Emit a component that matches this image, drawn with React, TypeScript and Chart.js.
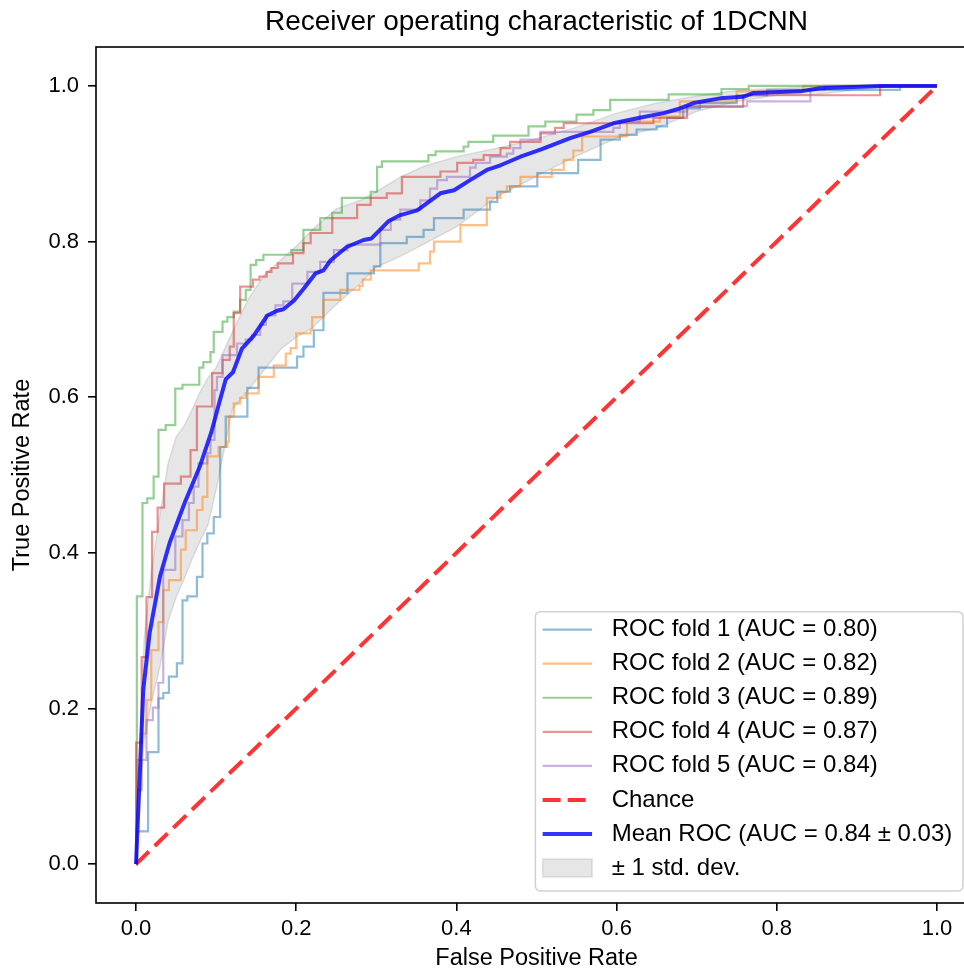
import React, { useEffect, useRef } from "react";
import { Chart, registerables } from "chart.js";

Chart.register(...registerables);

// ---------------- data ----------------
const TITLE = "Receiver operating characteristic of 1DCNN";
const X_LABEL = "False Positive Rate";
const Y_LABEL = "True Positive Rate";

const xTickValues = [0, 0.2, 0.4, 0.6, 0.8, 1.0];
const yTickValues = [0, 0.2, 0.4, 0.6, 0.8, 1.0];

const foldAuc = [0.8, 0.82, 0.89, 0.87, 0.84];
const meanAuc = 0.84;
const stdAuc = 0.03;

const fold1Fpr = [0, 0.001, 0.015, 0.028, 0.034, 0.041, 0.051, 0.058, 0.064, 0.076, 0.083, 0.089, 0.097, 0.105, 0.112, 0.139, 0.153, 0.201, 0.209, 0.222, 0.234, 0.264, 0.297, 0.305, 0.338, 0.359, 0.372, 0.409, 0.442, 0.451, 0.467, 0.501, 0.552, 0.58, 0.604, 0.625, 0.65, 0.663, 0.683, 0.704, 0.75, 0.788, 0.954, 1.0];
const fold1Tpr = [0, 0.042, 0.144, 0.213, 0.22, 0.241, 0.258, 0.339, 0.344, 0.369, 0.412, 0.425, 0.446, 0.536, 0.575, 0.612, 0.638, 0.652, 0.665, 0.686, 0.734, 0.759, 0.768, 0.798, 0.806, 0.815, 0.83, 0.841, 0.851, 0.864, 0.871, 0.888, 0.905, 0.931, 0.937, 0.944, 0.948, 0.959, 0.971, 0.978, 0.988, 0.995, 1.0, 1.0];

const fold2Fpr = [0, 0.001, 0.007, 0.013, 0.019, 0.028, 0.034, 0.041, 0.056, 0.062, 0.076, 0.083, 0.089, 0.103, 0.114, 0.116, 0.122, 0.13, 0.137, 0.153, 0.172, 0.187, 0.193, 0.2, 0.218, 0.22, 0.234, 0.255, 0.279, 0.283, 0.293, 0.353, 0.367, 0.372, 0.405, 0.438, 0.455, 0.463, 0.48, 0.519, 0.534, 0.546, 0.557, 0.613, 0.654, 0.679, 0.75, 0.833, 1.0];
const fold2Tpr = [0, 0.134, 0.168, 0.211, 0.275, 0.311, 0.352, 0.365, 0.404, 0.429, 0.455, 0.472, 0.524, 0.536, 0.543, 0.575, 0.592, 0.599, 0.605, 0.626, 0.641, 0.656, 0.663, 0.682, 0.686, 0.703, 0.725, 0.738, 0.743, 0.751, 0.763, 0.772, 0.787, 0.8, 0.821, 0.856, 0.864, 0.871, 0.883, 0.892, 0.905, 0.917, 0.935, 0.954, 0.961, 0.98, 0.993, 1.0, 1.0];

const fold3Fpr = [0, 0.001, 0.008, 0.014, 0.022, 0.028, 0.037, 0.049, 0.058, 0.079, 0.084, 0.093, 0.097, 0.108, 0.114, 0.122, 0.13, 0.137, 0.143, 0.15, 0.159, 0.194, 0.209, 0.23, 0.245, 0.257, 0.293, 0.301, 0.307, 0.365, 0.374, 0.409, 0.415, 0.446, 0.49, 0.511, 0.55, 0.571, 0.592, 0.665, 0.731, 0.765, 1.0];
const fold3Tpr = [0, 0.344, 0.464, 0.47, 0.498, 0.558, 0.564, 0.611, 0.616, 0.638, 0.645, 0.658, 0.684, 0.697, 0.703, 0.71, 0.725, 0.738, 0.77, 0.776, 0.783, 0.789, 0.815, 0.83, 0.837, 0.856, 0.864, 0.896, 0.903, 0.911, 0.916, 0.922, 0.928, 0.936, 0.948, 0.954, 0.963, 0.969, 0.982, 0.989, 0.996, 1.0, 1.0];

const fold4Fpr = [0, 0, 0.007, 0.013, 0.02, 0.027, 0.035, 0.056, 0.068, 0.076, 0.095, 0.108, 0.117, 0.122, 0.13, 0.146, 0.154, 0.163, 0.169, 0.177, 0.196, 0.209, 0.218, 0.245, 0.276, 0.293, 0.313, 0.332, 0.38, 0.401, 0.421, 0.434, 0.455, 0.467, 0.505, 0.523, 0.534, 0.646, 0.688, 0.758, 0.929, 1.0];
const fold4Tpr = [0, 0.156, 0.266, 0.343, 0.427, 0.458, 0.489, 0.498, 0.532, 0.588, 0.631, 0.648, 0.665, 0.708, 0.742, 0.751, 0.755, 0.761, 0.766, 0.772, 0.785, 0.798, 0.811, 0.83, 0.847, 0.856, 0.862, 0.883, 0.89, 0.901, 0.905, 0.911, 0.92, 0.928, 0.939, 0.946, 0.952, 0.959, 0.973, 0.988, 1.0, 1.0];

const fold5Fpr = [0, 0.001, 0.007, 0.013, 0.021, 0.028, 0.034, 0.049, 0.058, 0.066, 0.072, 0.078, 0.089, 0.093, 0.098, 0.101, 0.108, 0.126, 0.137, 0.145, 0.155, 0.162, 0.174, 0.184, 0.195, 0.214, 0.23, 0.247, 0.264, 0.305, 0.318, 0.33, 0.355, 0.367, 0.376, 0.388, 0.417, 0.424, 0.442, 0.463, 0.471, 0.48, 0.505, 0.596, 0.604, 0.629, 0.688, 0.763, 0.842, 0.86, 1.0];
const fold5Tpr = [0, 0.095, 0.134, 0.185, 0.201, 0.233, 0.378, 0.421, 0.442, 0.464, 0.485, 0.515, 0.528, 0.545, 0.609, 0.626, 0.654, 0.669, 0.674, 0.68, 0.693, 0.705, 0.718, 0.723, 0.746, 0.761, 0.774, 0.789, 0.796, 0.815, 0.828, 0.841, 0.853, 0.868, 0.879, 0.883, 0.895, 0.901, 0.909, 0.913, 0.92, 0.931, 0.941, 0.946, 0.954, 0.967, 0.974, 0.98, 0.995, 1.0, 1.0];

const meanFpr = [0, 0.009, 0.017, 0.03, 0.042, 0.061, 0.08, 0.094, 0.105, 0.112, 0.121, 0.132, 0.147, 0.164, 0.176, 0.184, 0.197, 0.209, 0.224, 0.234, 0.243, 0.263, 0.284, 0.294, 0.315, 0.33, 0.351, 0.38, 0.397, 0.417, 0.438, 0.455, 0.48, 0.505, 0.542, 0.567, 0.596, 0.629, 0.659, 0.679, 0.696, 0.729, 0.758, 0.771, 0.829, 0.854, 0.929, 1.0];
const meanTpr = [0, 0.224, 0.297, 0.37, 0.413, 0.465, 0.512, 0.555, 0.597, 0.623, 0.632, 0.662, 0.679, 0.705, 0.711, 0.713, 0.724, 0.739, 0.759, 0.763, 0.776, 0.793, 0.802, 0.804, 0.826, 0.834, 0.84, 0.862, 0.866, 0.879, 0.892, 0.898, 0.909, 0.918, 0.933, 0.941, 0.952, 0.959, 0.965, 0.971, 0.978, 0.984, 0.986, 0.991, 0.993, 0.997, 1.0, 1.0];

const bandFpr = [0, 0.01, 0.02, 0.03, 0.04, 0.05, 0.06, 0.07, 0.08, 0.09, 0.1, 0.12, 0.14, 0.16, 0.18, 0.2, 0.22, 0.25, 0.28, 0.3, 0.33, 0.36, 0.4, 0.45, 0.5, 0.55, 0.6, 0.65, 0.7, 0.75, 0.8, 0.85, 0.9, 0.95, 1.0];
const bandUpper = [0, 0.288, 0.383, 0.45, 0.515, 0.549, 0.563, 0.584, 0.607, 0.625, 0.638, 0.683, 0.726, 0.757, 0.776, 0.794, 0.815, 0.842, 0.853, 0.864, 0.883, 0.897, 0.909, 0.92, 0.932, 0.947, 0.965, 0.978, 0.987, 0.994, 0.997, 0.999, 1.0, 1.0, 1.0];
const bandLower = [0, 0.159, 0.211, 0.254, 0.312, 0.343, 0.366, 0.392, 0.415, 0.436, 0.481, 0.584, 0.609, 0.635, 0.661, 0.677, 0.689, 0.719, 0.746, 0.767, 0.781, 0.797, 0.819, 0.857, 0.884, 0.91, 0.933, 0.946, 0.967, 0.98, 0.988, 0.989, 0.995, 1.0, 1.0];

const chanceFpr = [0, 1];
const chanceTpr = [0, 1];

// ---------------- styles ----------------
const FONT = '"Liberation Sans", Arial, Helvetica, sans-serif';
const foldColors = [
  "rgba(31,119,180,0.5)",
  "rgba(255,127,14,0.5)",
  "rgba(44,160,44,0.5)",
  "rgba(214,39,40,0.5)",
  "rgba(148,103,189,0.5)",
];
const MEAN_COLOR = "rgba(0,0,255,0.8)";
const CHANCE_COLOR = "rgba(255,0,0,0.8)";
const BAND_FILL = "rgba(128,128,128,0.2)";
const BAND_EDGE = "rgba(128,128,128,0.22)";
const CHANCE_DASH = [18, 8];

const toPts = (xs: number[], ys: number[]) => xs.map((x, i) => ({ x, y: ys[i] }));

const foldFprs = [fold1Fpr, fold2Fpr, fold3Fpr, fold4Fpr, fold5Fpr];
const foldTprs = [fold1Tpr, fold2Tpr, fold3Tpr, fold4Tpr, fold5Tpr];

const foldLabels = foldAuc.map((a, i) => `ROC fold ${i + 1} (AUC = ${a.toFixed(2)})`);
const meanLabel = `Mean ROC (AUC = ${meanAuc.toFixed(2)} \u00B1 ${stdAuc.toFixed(2)})`;
const bandLabel = "\u00B1 1 std. dev.";
const chanceLabel = "Chance";

const framePlugin = {
  id: "frame",
  afterDatasetsDraw(chart: any) {
    const { ctx, chartArea: a } = chart;
    ctx.save();
    ctx.strokeStyle = "#000";
    ctx.lineWidth = 1.6;
    ctx.strokeRect(a.left, a.top, a.right - a.left, a.bottom - a.top);
    ctx.restore();
  },
};

const legendPlugin = {
  id: "mplLegend",
  afterDraw(chart: any) {
    const { ctx, chartArea: a } = chart;
    type Item = { label: string; kind: string; color: string };
    const items: Item[] = [
      ...foldLabels.map((l, i) => ({ label: l, kind: "line", color: foldColors[i] })),
      { label: chanceLabel, kind: "dash", color: CHANCE_COLOR },
      { label: meanLabel, kind: "mean", color: MEAN_COLOR },
      { label: bandLabel, kind: "band", color: BAND_FILL },
    ];
    ctx.save();
    ctx.font = `24px ${FONT}`;
    const maxW = Math.max(...items.map((it) => ctx.measureText(it.label).width));
    const padL = 7.3, handleW = 49.4, gap = 19.6, padR = 10.7;
    const rowH = 34.05, topPad = 18, botPad = 23;
    const boxR = a.right - 14;
    const boxB = a.bottom - 12;
    const boxW = padL + handleW + gap + maxW + padR;
    const boxH = topPad + rowH * (items.length - 1) + botPad;
    const boxL = boxR - boxW;
    const boxT = boxB - boxH;
    const r = 5;
    ctx.beginPath();
    ctx.moveTo(boxL + r, boxT);
    ctx.lineTo(boxR - r, boxT);
    ctx.arcTo(boxR, boxT, boxR, boxT + r, r);
    ctx.lineTo(boxR, boxB - r);
    ctx.arcTo(boxR, boxB, boxR - r, boxB, r);
    ctx.lineTo(boxL + r, boxB);
    ctx.arcTo(boxL, boxB, boxL, boxB - r, r);
    ctx.lineTo(boxL, boxT + r);
    ctx.arcTo(boxL, boxT, boxL + r, boxT, r);
    ctx.closePath();
    ctx.fillStyle = "rgba(255,255,255,0.8)";
    ctx.fill();
    ctx.strokeStyle = "rgba(204,204,204,0.9)";
    ctx.lineWidth = 1.5;
    ctx.stroke();

    const hx0 = boxL + padL;
    const hx1 = hx0 + handleW;
    const tx = hx1 + gap;
    items.forEach((it, i) => {
      const cy = boxT + topPad + i * rowH;
      ctx.setLineDash([]);
      if (it.kind === "band") {
        ctx.fillStyle = BAND_FILL;
        ctx.fillRect(hx0, cy - 9, handleW, 18);
        ctx.strokeStyle = BAND_EDGE;
        ctx.lineWidth = 1.5;
        ctx.strokeRect(hx0, cy - 9, handleW, 18);
      } else {
        ctx.beginPath();
        ctx.moveTo(hx0, cy);
        ctx.lineTo(hx1, cy);
        ctx.strokeStyle = it.color;
        ctx.lineWidth = it.kind === "line" ? 2.2 : 4;
        if (it.kind === "dash") ctx.setLineDash([18, 7]);
        ctx.lineCap = "butt";
        ctx.stroke();
      }
      ctx.setLineDash([]);
      ctx.fillStyle = "#000";
      ctx.textAlign = "left";
      ctx.textBaseline = "middle";
      ctx.fillText(it.label, tx, cy);
    });
    ctx.restore();
  },
};

export default function App() {
  const ref = useRef<HTMLCanvasElement>(null);

  useEffect(() => {
    if (!ref.current) return;
    const foldDatasets = foldFprs.map((fx, i) => ({
      label: foldLabels[i],
      data: toPts(fx, foldTprs[i]),
      borderColor: foldColors[i],
      borderWidth: 2.2,
      pointRadius: 0,
      stepped: "before" as const,
      fill: false,
      order: 6 - i,
    }));
    const chart = new Chart(ref.current, {
      type: "line",
      data: {
        datasets: [
          ...foldDatasets,
          {
            label: chanceLabel,
            data: toPts(chanceFpr, chanceTpr),
            borderColor: CHANCE_COLOR,
            borderWidth: 4,
            borderDash: CHANCE_DASH,
            pointRadius: 0,
            fill: false,
            order: 1,
          },
          {
            label: meanLabel,
            data: toPts(meanFpr, meanTpr),
            borderColor: MEAN_COLOR,
            borderWidth: 4,
            borderJoinStyle: "round",
            pointRadius: 0,
            fill: false,
            order: 0,
          },
          {
            label: bandLabel,
            data: toPts(bandFpr, bandUpper),
            borderColor: BAND_EDGE,
            borderWidth: 1.5,
            backgroundColor: BAND_FILL,
            pointRadius: 0,
            fill: "+1",
            order: 8,
          },
          {
            label: "lower",
            data: toPts(bandFpr, bandLower),
            borderColor: BAND_EDGE,
            borderWidth: 1.5,
            pointRadius: 0,
            fill: false,
            order: 9,
          },
        ] as any,
      },
      options: {
        animation: false,
        responsive: false,
        devicePixelRatio: 1,
        layout: { padding: { left: 0, right: 13, top: 0, bottom: 19 } },
        plugins: {
          legend: { display: false },
          tooltip: { enabled: false },
          title: {
            display: true,
            text: TITLE,
            fullSize: false,
            color: "#000",
            font: { family: FONT, size: 28, weight: "normal", lineHeight: 1.2 },
            padding: { top: 5.2, bottom: 8.2 },
          } as any,
        },
        scales: {
          x: {
            type: "linear",
            min: -0.05,
            max: 1.05,
            afterFit: (s: any) => {
              s.height = 68;
            },
            afterBuildTicks: (s: any) => {
              s.ticks = xTickValues.map((v) => ({ value: v }));
            },
            ticks: {
              color: "#000",
              font: { family: FONT, size: 22 },
              padding: 5,
              maxRotation: 0,
              autoSkip: false,
              callback: (v: any) => Number(v).toFixed(1),
            },
            grid: { drawOnChartArea: false, drawTicks: true, tickLength: 8, color: "#000", lineWidth: 1.6 },
            border: { display: false },
            title: {
              display: true,
              text: X_LABEL,
              color: "#000",
              font: { family: FONT, size: 23.5, lineHeight: 1.2 },
              padding: { top: 0, bottom: -2 },
            },
          },
          y: {
            type: "linear",
            min: -0.05,
            max: 1.05,
            afterFit: (s: any) => {
              s.width = 96;
            },
            afterBuildTicks: (s: any) => {
              s.ticks = yTickValues.map((v) => ({ value: v }));
            },
            ticks: {
              color: "#000",
              font: { family: FONT, size: 22 },
              padding: 9,
              autoSkip: false,
              callback: (v: any) => Number(v).toFixed(1),
            },
            grid: { drawOnChartArea: false, drawTicks: true, tickLength: 8, color: "#000", lineWidth: 1.6 },
            border: { display: false },
            title: {
              display: true,
              text: Y_LABEL,
              color: "#000",
              font: { family: FONT, size: 23.5, lineHeight: 1.2 },
              padding: { top: 8, bottom: 0 },
            },
          },
        },
      } as any,
      plugins: [framePlugin, legendPlugin],
    });
    return () => chart.destroy();
  }, []);

  return (
    <div
      style={{
        position: "fixed",
        left: 0,
        top: 0,
        width: 964,
        height: 971,
        overflow: "hidden",
        background: "#fff",
      }}
    >
      <canvas ref={ref} width={990} height={990} style={{ display: "block" }} />
    </div>
  );
}
